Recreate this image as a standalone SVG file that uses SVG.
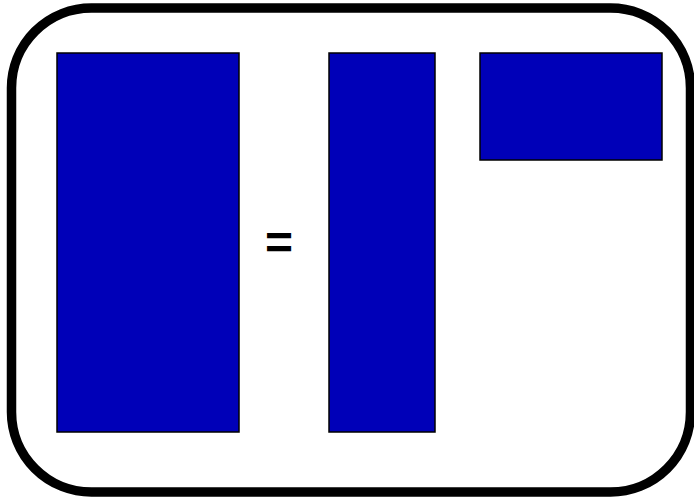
<svg xmlns="http://www.w3.org/2000/svg" width="694" height="499" viewBox="0 0 694 499">
<style>
.blk{fill:#0000b8;stroke:#000;stroke-width:1.5}
.frame{fill:#fff;stroke:#000;stroke-width:9.5}
.eq{font-family:"Liberation Sans",Arial,sans-serif;font-weight:bold;font-size:48px;fill:#000}
</style>
<rect width="694" height="499" fill="#fff"/>
<g id="frame"><rect class="frame" x="11.5" y="8" width="679" height="484" rx="80" ry="80"/></g>
<g id="matrixA"><rect class="blk" x="57" y="53" width="182" height="379"/></g>
<g id="equals"><text class="eq" x="279" y="259" text-anchor="middle">=</text></g>
<g id="matrixQ"><rect class="blk" x="329" y="53" width="106" height="379"/></g>
<g id="matrixR"><rect class="blk" x="480" y="53" width="182" height="107"/></g>
<g id="connectors"/>
</svg>
